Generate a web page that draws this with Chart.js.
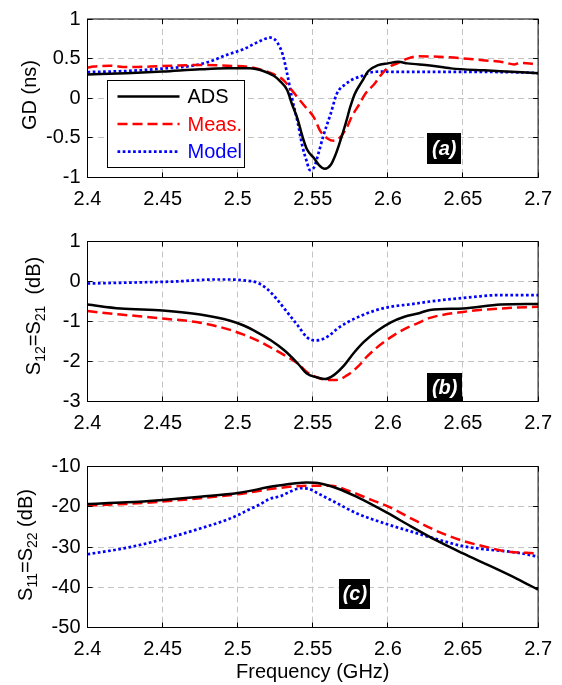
<!DOCTYPE html>
<html><head><meta charset="utf-8">
<script src="https://cdn.jsdelivr.net/npm/chart.js@4/dist/chart.umd.min.js"></script>
<style>
html,body{margin:0;padding:0;background:#fff;}
#wrap{position:relative;width:562px;height:685px;overflow:hidden;}
canvas{position:absolute;left:0;}
</style></head><body>
<div id="wrap">
<canvas id="cA" width="562" height="218" style="top:0px"></canvas>
<canvas id="cB" width="562" height="220" style="top:218px"></canvas>
<canvas id="cC" width="562" height="247" style="top:438px"></canvas>
</div>
<script>
// ---------- tick labels ----------
const freqTicks = [2.4, 2.45, 2.5, 2.55, 2.6, 2.65, 2.7];
const gdTicks   = [-1, -0.5, 0, 0.5, 1];
const s21Ticks  = [-3, -2, -1, 0, 1];
const s11Ticks  = [-50, -40, -30, -20, -10];
const seriesNames = ['ADS', 'Meas.', 'Model'];

// ---------- (a) group delay, ns ----------
const gdAdsF  = [2.400,2.426,2.450,2.475,2.493,2.508,2.517,2.524,2.528,2.533,2.536,2.540,2.543,2.546,2.551,2.554,2.558,2.562,2.565,2.568,2.572,2.575,2.578,2.583,2.587,2.593,2.600,2.607,2.613,2.628,2.642,2.664,2.686,2.700];
const gdAds   = [0.300,0.315,0.336,0.365,0.377,0.377,0.344,0.283,0.220,0.100,-0.066,-0.270,-0.475,-0.640,-0.760,-0.840,-0.890,-0.840,-0.720,-0.557,-0.310,-0.107,0.057,0.220,0.344,0.414,0.440,0.459,0.440,0.414,0.377,0.352,0.332,0.316];
const gdMeasF = [2.400,2.404,2.415,2.426,2.449,2.475,2.493,2.508,2.517,2.524,2.531,2.537,2.544,2.551,2.555,2.560,2.564,2.567,2.572,2.576,2.581,2.585,2.591,2.595,2.600,2.607,2.613,2.620,2.641,2.663,2.677,2.684,2.688,2.700];
const gdMeas  = [0.385,0.400,0.410,0.393,0.405,0.420,0.410,0.393,0.352,0.303,0.220,0.078,-0.086,-0.250,-0.414,-0.510,-0.537,-0.516,-0.393,-0.230,-0.074,0.057,0.180,0.283,0.385,0.447,0.500,0.529,0.516,0.480,0.455,0.426,0.447,0.426];
const gdModF  = [2.400,2.426,2.449,2.471,2.482,2.493,2.504,2.513,2.522,2.526,2.530,2.533,2.536,2.540,2.543,2.546,2.548,2.551,2.554,2.557,2.562,2.566,2.572,2.577,2.583,2.588,2.595,2.606,2.650,2.690,2.700];
const gdMod   = [0.330,0.344,0.373,0.414,0.467,0.550,0.620,0.705,0.766,0.713,0.550,0.303,0.016,-0.310,-0.600,-0.800,-0.906,-0.865,-0.680,-0.475,-0.190,0.057,0.180,0.242,0.283,0.324,0.336,0.332,0.332,0.325,0.316];

// ---------- (b) S12 = S21, dB ----------
const s21AdsF  = [2.400,2.422,2.450,2.475,2.495,2.504,2.513,2.522,2.531,2.540,2.546,2.553,2.558,2.564,2.571,2.577,2.584,2.593,2.602,2.611,2.620,2.628,2.650,2.675,2.700];
const s21Ads   = [-0.575,-0.675,-0.725,-0.825,-0.98,-1.10,-1.27,-1.47,-1.72,-2.05,-2.30,-2.40,-2.44,-2.34,-2.09,-1.80,-1.51,-1.23,-1.02,-0.88,-0.80,-0.71,-0.675,-0.575,-0.56];
const s21MeasF = [2.400,2.422,2.450,2.475,2.495,2.504,2.513,2.522,2.531,2.540,2.546,2.553,2.560,2.566,2.573,2.580,2.586,2.593,2.602,2.611,2.620,2.628,2.650,2.675,2.700];
const s21Meas  = [-0.74,-0.825,-0.925,-1.03,-1.21,-1.33,-1.47,-1.65,-1.84,-2.05,-2.26,-2.40,-2.46,-2.46,-2.34,-2.13,-1.88,-1.64,-1.39,-1.19,-1.04,-0.91,-0.76,-0.675,-0.63];
const s21ModF  = [2.400,2.437,2.458,2.485,2.495,2.504,2.513,2.520,2.526,2.533,2.540,2.546,2.551,2.555,2.561,2.566,2.573,2.582,2.591,2.602,2.615,2.628,2.650,2.675,2.700];
const s21Mod   = [-0.05,-0.02,0.00,0.05,0.05,0.03,-0.03,-0.20,-0.44,-0.77,-1.10,-1.39,-1.47,-1.46,-1.35,-1.19,-1.02,-0.86,-0.73,-0.63,-0.57,-0.50,-0.41,-0.34,-0.34];

// ---------- (c) S11 = S22, dB ----------
const s11AdsF  = [2.400,2.426,2.450,2.475,2.500,2.526,2.546,2.555,2.566,2.579,2.600,2.615,2.633,2.650,2.668,2.686,2.700];
const s11Ads   = [-19.3,-18.9,-18.3,-17.5,-16.6,-14.8,-14.0,-14.2,-15.4,-17.5,-21.6,-24.8,-28.5,-31.6,-34.7,-37.9,-40.6];
const s11MeasF = [2.400,2.426,2.450,2.475,2.500,2.526,2.546,2.562,2.575,2.589,2.600,2.615,2.633,2.650,2.668,2.677,2.700];
const s11Meas  = [-19.7,-19.3,-18.7,-17.9,-16.9,-15.4,-14.8,-14.8,-16.2,-18.3,-19.9,-22.8,-26.1,-28.5,-30.2,-31.0,-31.6];
const s11ModF  = [2.400,2.426,2.450,2.475,2.493,2.500,2.508,2.515,2.521,2.529,2.535,2.542,2.547,2.553,2.566,2.579,2.600,2.615,2.633,2.650,2.668,2.686,2.700];
const s11Mod   = [-31.8,-30.2,-28.1,-25.4,-23.2,-22.1,-20.6,-19.4,-18.1,-17.3,-16.2,-15.4,-15.5,-16.6,-19.1,-21.6,-24.4,-26.1,-28.1,-29.8,-30.7,-31.4,-32.4];

// ---------- helpers ----------
const FONT = '"Liberation Sans", Arial, sans-serif';
const pts = (f, v) => f.map((x, i) => ({x: x, y: v[i]}));
const fmt = v => String(Math.round(v * 1000) / 1000);
const lineStyles = [
  {borderColor: '#000000', borderWidth: 2.5, borderDash: []},
  {borderColor: '#ff0000', borderWidth: 2.5, borderDash: [10, 5]},
  {borderColor: '#0000ff', borderWidth: 2.7, borderDash: [2.7, 2.5]}
];
function makeSets(pairs) {
  return pairs.map((p, i) => Object.assign({
    label: seriesNames[i], data: pts(p[0], p[1]),
    pointRadius: 0, fill: false, cubicInterpolationMode: 'monotone'
  }, lineStyles[i]));
}
function alignPx(v) { return Math.round(v - 0.5) + 0.5; }

const matlabAxes = {
  id: 'matlabAxes',
  afterDatasetsDraw(chart, args, o) {
    const {ctx, chartArea: a, scales: {x, y}} = chart;
    ctx.save();
    ctx.setLineDash([]);
    ctx.strokeStyle = '#000'; ctx.lineWidth = 1;
    ctx.strokeRect(a.left, a.top, a.right - a.left, a.bottom - a.top);
    const L = 5;
    ctx.beginPath();
    x.ticks.forEach(t => {
      const px = alignPx(x.getPixelForValue(t.value));
      ctx.moveTo(px, a.bottom); ctx.lineTo(px, a.bottom - L);
      ctx.moveTo(px, a.top); ctx.lineTo(px, a.top + L);
    });
    y.ticks.forEach(t => {
      const py = alignPx(y.getPixelForValue(t.value));
      ctx.moveTo(a.left, py); ctx.lineTo(a.left + L, py);
      ctx.moveTo(a.right, py); ctx.lineTo(a.right - L, py);
    });
    ctx.stroke();

    if (o.tag) {
      const cx = x.getPixelForValue(o.tag.x), cy = y.getPixelForValue(o.tag.y);
      ctx.fillStyle = '#000';
      ctx.fillRect(Math.round(cx - o.tag.w / 2), Math.round(cy - o.tag.h / 2), o.tag.w, o.tag.h);
      ctx.fillStyle = '#fff';
      ctx.font = 'italic bold 20px ' + FONT;
      ctx.textAlign = 'center'; ctx.textBaseline = 'middle';
      ctx.fillText(o.tag.text, cx, cy + 1);
    }

    if (o.legend) {
      const g = o.legend;
      ctx.fillStyle = '#fff';
      ctx.fillRect(g.left, g.top, g.w, g.h);
      ctx.strokeStyle = '#000'; ctx.lineWidth = 1;
      ctx.strokeRect(g.left, g.top, g.w, g.h);
      ctx.font = '20px ' + FONT;
      ctx.textAlign = 'left'; ctx.textBaseline = 'middle';
      chart.data.datasets.forEach((ds, i) => {
        const ry = g.top + g.first + i * g.step;
        ctx.save();
        ctx.strokeStyle = ds.borderColor; ctx.lineWidth = ds.borderWidth;
        ctx.setLineDash(ds.borderDash || []);
        ctx.beginPath(); ctx.moveTo(g.left + 10, ry); ctx.lineTo(g.left + 72, ry); ctx.stroke();
        ctx.restore();
        ctx.fillStyle = ds.borderColor;
        ctx.fillText(ds.label, g.left + 80, ry + 1);
      });
    }
    ctx.restore();
  },
  afterDraw(chart, args, o) {
    if (!o.yTitle) return;
    const ctx = chart.ctx, t = o.yTitle;
    ctx.save();
    ctx.translate(t.base, t.cy);
    ctx.rotate(-Math.PI / 2);
    ctx.fillStyle = '#000';
    ctx.textBaseline = 'alphabetic'; ctx.textAlign = 'left';
    let total = 0;
    t.parts.forEach(p => {
      ctx.font = (p.sub ? '14px ' : '20px ') + FONT;
      p.w = ctx.measureText(p.text).width; total += p.w;
    });
    let xx = -total / 2;
    t.parts.forEach(p => {
      ctx.font = (p.sub ? '14px ' : '20px ') + FONT;
      ctx.fillText(p.text, xx, p.sub ? 5 : 0);
      xx += p.w;
    });
    ctx.restore();
  }
};

function makePanel(id, cfg) {
  const tickFont = {family: FONT, size: 20};
  return new Chart(document.getElementById(id), {
    type: 'line',
    data: {datasets: cfg.datasets},
    options: {
      responsive: false, animation: false, events: [],
      layout: {padding: {top: cfg.padTop, right: 23.5, bottom: 0, left: 0}},
      plugins: {
        legend: {display: false}, tooltip: {enabled: false},
        matlabAxes: {tag: cfg.tag, legend: cfg.legend, yTitle: cfg.yTitle}
      },
      scales: {
        x: {
          type: 'linear', min: 2.4, max: 2.7,
          afterBuildTicks: s => { s.ticks = freqTicks.map(v => ({value: v})); },
          afterFit: s => { s.height = cfg.xHeight; },
          ticks: {font: tickFont, color: '#000', padding: 10, maxRotation: 0, autoSkip: false, callback: fmt},
          grid: {color: '#c4c4c4', lineWidth: 1, drawTicks: false},
          border: {display: false, dash: [6, 4]},
          title: cfg.xTitle ? {display: true, text: cfg.xTitle, color: '#000',
                   font: {family: FONT, size: 20}, padding: {top: 0, bottom: 1}} : {display: false}
        },
        y: {
          type: 'linear', min: cfg.yTicks[0], max: cfg.yTicks[cfg.yTicks.length - 1],
          afterBuildTicks: s => { s.ticks = cfg.yTicks.map(v => ({value: v})); },
          afterFit: s => { s.width = 87.5; },
          ticks: {font: tickFont, color: '#000', padding: 7, autoSkip: false, callback: fmt},
          grid: {color: '#c4c4c4', lineWidth: 1, drawTicks: false},
          border: {display: false, dash: [6, 4]}
        }
      }
    },
    plugins: [matlabAxes]
  });
}

makePanel('cA', {
  datasets: makeSets([[gdAdsF, gdAds], [gdMeasF, gdMeas], [gdModF, gdMod]]),
  yTicks: gdTicks, padTop: 15.5, xHeight: 40.5,
  tag: {text: '(a)', x: 2.6375, y: -0.633, w: 34, h: 31},
  legend: {left: 107.5, top: 80.5, w: 137, h: 87, first: 16, step: 27.6},
  yTitle: {base: 35.5, cy: 95, parts: [{text: 'GD (ns)'}]}
});
makePanel('cB', {
  datasets: makeSets([[s21AdsF, s21Ads], [s21MeasF, s21Meas], [s21ModF, s21Mod]]),
  yTicks: s21Ticks, padTop: 23.5, xHeight: 36.5,
  tag: {text: '(b)', x: 2.6378, y: -2.64, w: 35, h: 29},
  yTitle: {base: 40, cy: 98, parts: [{text: 'S'}, {text: '12', sub: true}, {text: '=S'}, {text: '21', sub: true}, {text: '  (dB)'}]}
});
makePanel('cC', {
  datasets: makeSets([[s11AdsF, s11Ads], [s11MeasF, s11Meas], [s11ModF, s11Mod]]),
  yTicks: s11Ticks, padTop: 28.5, xHeight: 57.5, xTitle: 'Frequency (GHz)',
  tag: {text: '(c)', x: 2.578, y: -41.6, w: 31, h: 30},
  yTitle: {base: 31.5, cy: 107, parts: [{text: 'S'}, {text: '11', sub: true}, {text: '=S'}, {text: '22', sub: true}, {text: ' (dB)'}]}
});
</script>
</body></html>
